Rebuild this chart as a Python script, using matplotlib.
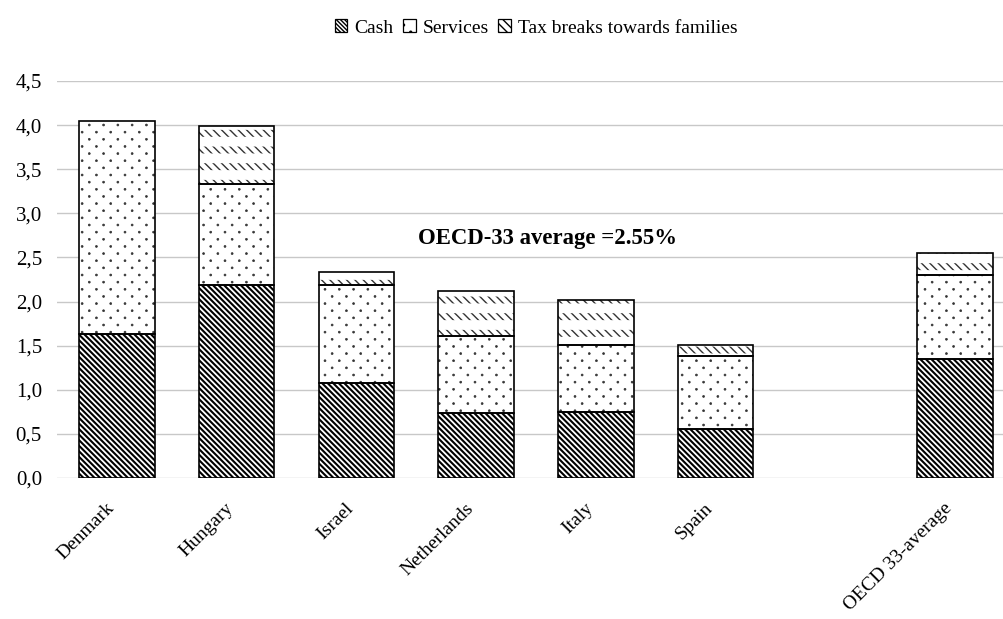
import matplotlib
matplotlib.use("Agg")
import numpy as np
import matplotlib.pyplot as plt
import matplotlib.hatch as mhatch
from matplotlib.path import Path
from matplotlib.patches import Patch
from matplotlib.transforms import ScaledTranslation

# Family benefit public spending, % of GDP
countries = ["Denmark", "Hungary", "Israel", "Netherlands", "Italy", "Spain", "OECD 33-average"]
cash = [1.63, 2.19, 1.08, 0.74, 0.75, 0.55, 1.35]
services = [2.42, 1.14, 1.11, 0.87, 0.76, 0.83, 0.95]
tax_breaks = [0.00, 0.66, 0.14, 0.51, 0.51, 0.13, 0.25]
series_names = ["Cash", "Services", "Tax breaks towards families"]
avg_label = "OECD-33 average =2.55%"
ytick_values = [0.0, 0.5, 1.0, 1.5, 2.0, 2.5, 3.0, 3.5, 4.0, 4.5]

positions = [0, 1, 2, 3, 4, 5, 7]
bar_w = 0.63


# Staggered small-dot fill: wide spacing across, tight spacing down.
class StaggeredDots(mhatch.HatchPatternBase):
    cols, rows, radius = 7, 14, 0.0095

    def __init__(self, hatch, density):
        self.n = 1 if hatch.count('.') else 0
        circle = Path.unit_circle()
        self.shape_vertices = circle.vertices
        self.shape_codes = circle.codes
        self.num_vertices = self.n * self.cols * self.rows * len(circle.vertices)

    def set_vertices_and_codes(self, vertices, codes):
        vparts, cparts = [], []
        for r in range(self.rows):
            for c in range(self.cols):
                x = (c + 0.5 * (r % 2) + 0.25) / self.cols
                y = (r + 0.5) / self.rows
                vparts.append(self.shape_vertices * self.radius + [x, y])
                cparts.append(self.shape_codes)
        np.concatenate(vparts, out=vertices)
        np.concatenate(cparts, out=codes)


try:
    mhatch._hatch_types = [StaggeredDots if t is mhatch.SmallFilledCircles else t
                           for t in mhatch._hatch_types]
except Exception:
    pass

plt.rcParams["font.family"] = ["Liberation Serif", "DejaVu Serif"]

fig = plt.figure(figsize=(10.04, 6.19), dpi=100)
ax = fig.add_axes([57.2 / 1004, (619 - 478) / 619, 957.6 / 1004, 397 / 619])
ax.set_xlim(-0.5, 7.5)
ax.set_ylim(0, 4.5)


def hatched(bottom, heights, hatch, color, lw, face="white"):
    with plt.rc_context({"hatch.linewidth": lw}):
        bars = ax.bar(positions, heights, bar_w, bottom=bottom, facecolor=face,
                      edgecolor=color, linewidth=0, hatch=hatch, zorder=3)
    for b in bars:
        if hasattr(b, "set_hatch_linewidth"):
            b.set_hatch_linewidth(lw)
    return bars


base_serv = cash
base_tax = [c + s for c, s in zip(cash, services)]

hatched(0, cash, "\\" * 6, "black", 1.5)
hatched(base_serv, services, ".", "#333333", 0.5)
hatched(base_tax, tax_breaks, "\\" * 4, "#333333", 1.0)
# white bands break the tax-break diagonals into rows
hatched(base_tax, tax_breaks, "-", "white", 7.0, face="none")

# segment outlines
for bottom, heights in ((0, cash), (base_serv, services), (base_tax, tax_breaks)):
    bottoms = bottom if isinstance(bottom, list) else [bottom] * len(positions)
    vis = [(p, h, b) for p, h, b in zip(positions, heights, bottoms) if h > 0]
    ax.bar([v[0] for v in vis], [v[1] for v in vis], bar_w, bottom=[v[2] for v in vis],
           facecolor="none", edgecolor="black", linewidth=1.2, zorder=4)

ax.set_yticks(ytick_values)
ax.set_yticklabels([f"{v:.1f}".replace(".", ",") for v in ytick_values])
ax.yaxis.grid(True, color="#c8c8c8", linewidth=1.0, zorder=0)
ax.set_axisbelow(True)
for s in ax.spines.values():
    s.set_visible(False)
ax.tick_params(axis="y", length=0, pad=11, labelsize=15)
ax.tick_params(axis="x", length=0, pad=20, labelsize=14)
ax.set_xticks(positions)
ax.set_xticklabels(countries, rotation=45, ha="right", va="center", rotation_mode="anchor")
shift = ScaledTranslation(-4 / 72, 0, fig.dpi_scale_trans)
for lab in ax.get_xticklabels():
    lab.set_transform(lab.get_transform() + shift)

ax.text(3.6, 2.72, avg_label, ha="center", va="center", fontsize=16.4,
        fontweight="bold")

legend_handles = []
for hatch, hcolor in (("\\" * 8, "black"), (".", "#333333"), ("\\" * 4, "#333333")):
    with plt.rc_context({"hatch.linewidth": 1.0}):
        p = Patch(facecolor="white", edgecolor="black", hatch=hatch, linewidth=0.9)
    legend_handles.append(p)
fig.legend(legend_handles, series_names, loc="center", bbox_to_anchor=(536 / 1004, 1 - 28 / 619),
           ncol=3, frameon=False, fontsize=14, handlelength=0.65, handleheight=0.65,
           handletextpad=0.35, columnspacing=0.5)

fig.savefig("out.png", dpi=100)
